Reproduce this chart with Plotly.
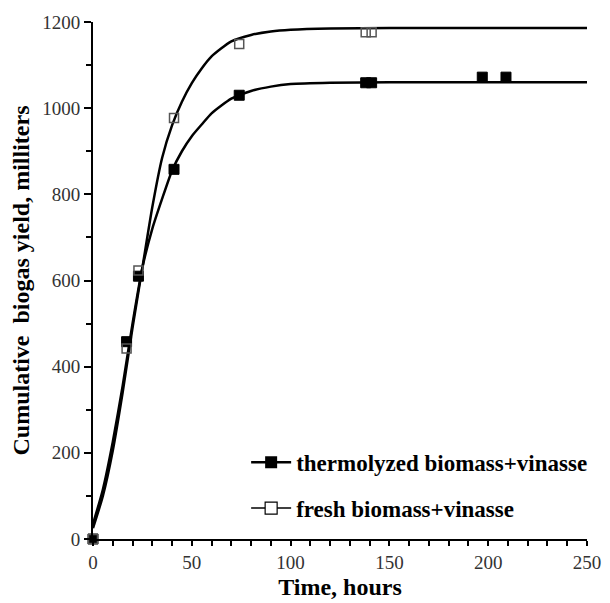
import plotly.graph_objects as go

# Measured points
t_thermo = [0, 17, 23, 41, 74, 138, 141, 197, 209]
y_thermo = [0, 458, 610, 858, 1030, 1059, 1059, 1072, 1072]
t_fresh = [0, 17, 23, 41, 74, 138, 141, 197, 209]
y_fresh = [0, 442, 623, 977, 1149, 1176, 1176, 1202, 1202]

# Fitted curves
t_curve = [0, 5, 10, 15, 20, 25, 30, 35, 40, 45, 50, 55, 60, 70, 80, 90, 100, 120, 150, 200, 252]
fit_thermo = [35, 115, 225, 355, 500, 630, 720, 790, 855, 900, 935, 962, 988, 1022, 1040, 1050, 1056, 1059, 1060, 1060, 1060]
fit_fresh = [25, 100, 205, 340, 490, 630, 770, 885, 960, 1015, 1058, 1092, 1120, 1155, 1170, 1178, 1182, 1185, 1186, 1186, 1186]

names = ["thermolyzed biomass+vinasse", "fresh biomass+vinasse"]

fig = go.Figure()
line_style = dict(color="black", width=2.5, shape="spline", smoothing=0.6)

fig.add_trace(go.Scatter(x=t_curve, y=fit_thermo, mode="lines", line=line_style,
                         showlegend=False, hoverinfo="skip", cliponaxis=False))
fig.add_trace(go.Scatter(x=t_curve, y=fit_fresh, mode="lines", line=line_style,
                         showlegend=False, hoverinfo="skip", cliponaxis=False))
fig.add_trace(go.Scatter(x=t_thermo, y=y_thermo, mode="markers", cliponaxis=False,
                         marker=dict(symbol="square", size=10, color="black",
                                     line=dict(color="black", width=1)),
                         showlegend=False))
fig.add_trace(go.Scatter(x=t_fresh, y=y_fresh, mode="markers", cliponaxis=False,
                         marker=dict(symbol="square-open", size=9, color="#555",
                                     line=dict(width=1.5)),
                         showlegend=False))

# legend entries
fig.add_trace(go.Scatter(x=[None], y=[None], mode="lines+markers", name=names[0],
                         legendgroup="a",
                         line=dict(color="black", width=2.5),
                         marker=dict(symbol="square", size=12, color="black")))
fig.add_trace(go.Scatter(x=[None], y=[None], mode="lines+markers", name=names[1],
                         legendgroup="b",
                         line=dict(color="black", width=1.5),
                         marker=dict(symbol="square", size=12, color="white",
                                     line=dict(color="black", width=1.2))))

tickfont = dict(family="Liberation Serif", size=19, color="#333")
titlefont = dict(family="Liberation Serif", size=24, color="black", weight="bold")

fig.update_layout(
    width=602, height=595,
    margin=dict(l=85, r=23, t=14, b=64, autoexpand=False),
    paper_bgcolor="white", plot_bgcolor="white",
    showlegend=True,
    legend=dict(x=0.31, xanchor="left", y=0.19, yanchor="top",
                font=dict(family="Liberation Serif", size=23, color="black", weight="bold"),
                bgcolor="rgba(0,0,0,0)", tracegroupgap=13, traceorder="grouped",
                itemwidth=40),
    xaxis=dict(range=[0, 250], tickvals=[0, 50, 100, 150, 200, 250], automargin=False,
               showline=True, linecolor="black", linewidth=2,
               ticks="outside", ticklen=5, tickwidth=1.5, tickcolor="black",
               minor=dict(dtick=10, ticks="outside", ticklen=5, tickwidth=1.5, tickcolor="black"),
               showgrid=False, zeroline=False, tickfont=tickfont,
               title=dict(text="Time, hours", font=titlefont, standoff=6)),
    yaxis=dict(range=[0, 1200], tickvals=[0, 200, 400, 600, 800, 1000, 1200], automargin=False,
               showline=True, linecolor="black", linewidth=2,
               ticks="outside", ticklen=7, tickwidth=1.5, tickcolor="black",
               minor=dict(dtick=100, ticks="outside", ticklen=5, tickwidth=1.5, tickcolor="black"),
               showgrid=False, zeroline=False, tickfont=tickfont,
               title=dict(text="Cumulative  biogas yield, milliters", font=titlefont, standoff=6)),
)

fig.write_html("out.html")
